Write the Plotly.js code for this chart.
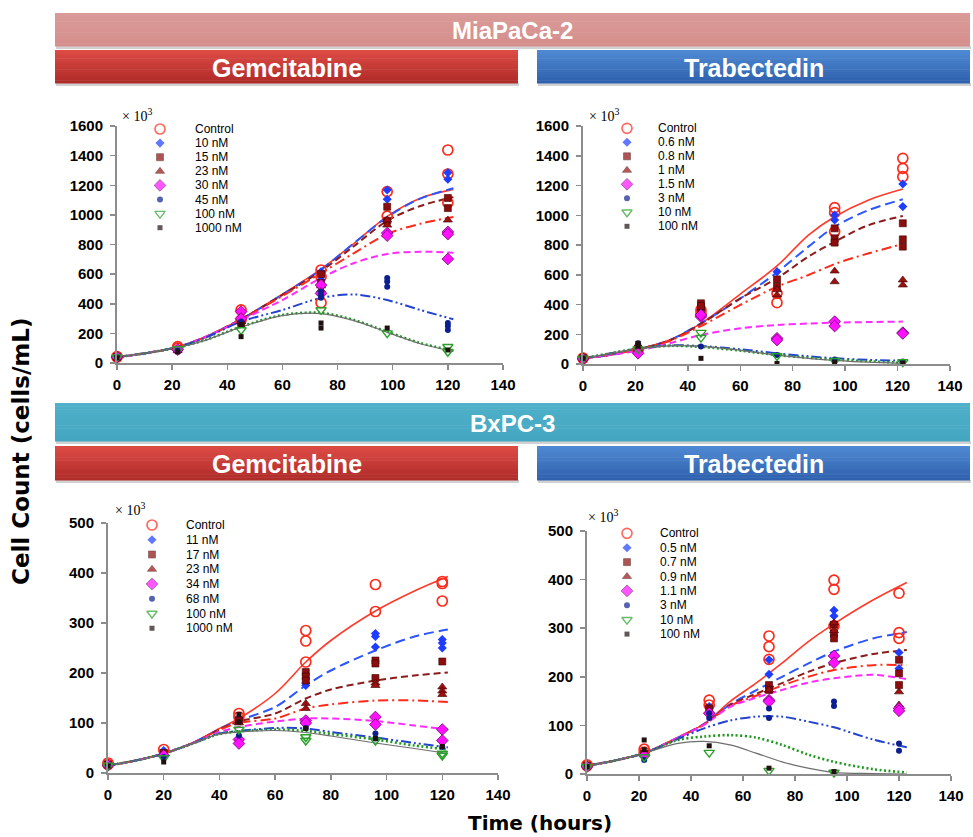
<!DOCTYPE html>
<html><head><meta charset="utf-8">
<script src="https://cdn.plot.ly/plotly-3.0.1.min.js"></script>
<style>html,body{margin:0;padding:0;background:#fff}#chart{width:973px;height:837px}</style>
</head><body><div id="chart"></div>
<script>
// ---------------- DATA ----------------
// MiaPaCa-2 / Gemcitabine
const mgLabels = ['Control','10 nM','15 nM','23 nM','30 nM','45 nM','100 nM','1000 nM'];
const mgTimes = [0,22,45,74,98,120];
const mgPoints = [
  [[43,40],[110,100],[358,290],[628,583,407],[1157,992],[1438,1276,1082]],
  [[40],[95],[300,280],[616,560],[1168,1105],[1285,1240]],
  [[40],[90],[290,270],[540,600],[1055,960],[1114,1046]],
  [[40],[85],[280],[493,520],[965,931],[965]],
  [[40],[90],[347,300],[526,470],[877,860],[885,870,702]],
  [[40],[85],[280],[481,459,440],[573,550,515],[270,250,223]],
  [[40],[95],[223],[358],[202],[110,76]],
  [[35],[75],[178,260],[270,236],[236],[88]]
];
const mgFitTimes = [0,11,22,32,45,60,74,86,98,110,122];
const mgFits = [
  [40,68,108,175,297,465,634,808,990,1113,1172],
  [40,68,108,175,295,462,630,810,985,1110,1180],
  [40,68,108,175,295,460,620,790,960,1060,1120],
  [40,68,108,175,293,452,607,742,871,940,986],
  [40,68,108,175,290,425,574,675,736,751,745],
  [40,68,108,170,279,358,439,463,425,358,295],
  [40,68,105,155,245,324,338,290,211,135,83],
  [40,68,104,153,242,320,334,286,207,130,78]
];

// MiaPaCa-2 / Trabectedin
const mtLabels = ['Control','0.6 nM','0.8 nM','1 nM','1.5 nM','3 nM','10 nM','100 nM'];
const mtTimes = [0,21,45,74,96,122];
const mtPoints = [
  [[38,40],[94],[363,340],[475,412],[1051,1017,890],[1383,1315,1259]],
  [[40],[100],[367],[621],[1002,968],[1210,1058]],
  [[40],[105],[408,363,390],[569,520],[912,845,816],[946,838,789]],
  [[40],[100],[340],[464,500],[625,553],[565,531]],
  [[35],[72],[318,330],[173,161],[285,255],[211,205]],
  [[38],[139],[117],[60],[31],[16]],
  [[38],[100],[211,177],[54],[22],[13]],
  [[38],[139,120],[38],[4],[9],[5]]
];
const mtFitTimes = [0,10,21,33,45,60,74,86,96,109,122];
const mtFits = [
  [38,60,99,161,273,470,659,867,990,1103,1176],
  [38,60,99,160,273,440,616,789,923,1035,1107],
  [38,60,99,158,270,441,576,722,822,934,995],
  [38,60,99,155,255,397,520,598,672,744,807],
  [38,60,90,139,195,240,262,272,278,282,285],
  [38,70,105,125,121,99,72,52,38,28,22],
  [38,70,104,122,115,90,60,42,30,18,8],
  [38,70,104,122,118,92,60,38,25,12,4]
];

// BxPC-3 / Gemcitabine
const bgLabels = ['Control','11 nM','17 nM','23 nM','34 nM','68 nM','100 nM','1000 nM'];
const bgTimes = [0,20,47,71,96,120];
const bgPoints = [
  [[20,17],[47],[119,112],[285,264,222],[377,323],[383,379,344]],
  [[17],[45],[110],[175,180],[279,273,252],[267,260,250]],
  [[17],[40],[105],[202,193,185],[225,219,190],[223]],
  [[17],[38],[100],[139,129],[180,175],[172,164,157]],
  [[15],[35],[67,59],[105,100],[112,97],[87,65]],
  [[15],[32],[75],[90],[79,69],[52]],
  [[15],[30],[87],[72,65],[65],[39,35]],
  [[14],[22],[117,102],[89],[69],[53]]
];
const bgFitTimes = [0,10,20,30,40,47,60,71,80,96,110,122];
const bgFits = [
  [15,25,39,59,89,109,159,222,265,324,364,393],
  [15,25,39,59,88,105,132,175,205,245,273,287],
  [15,25,39,59,87,103,119,149,167,185,195,201],
  [15,25,39,59,86,100,109,129,137,145,145,142],
  [15,25,39,59,82,92,103,109,109,104,95,87],
  [15,25,39,58,79,84,90,89,82,71,60,51],
  [15,25,39,58,78,83,87,84,78,67,55,47],
  [15,25,39,58,78,82,85,81,74,60,49,39]
];

// BxPC-3 / Trabectedin
const btLabels = ['Control','0.5 nM','0.7 nM','0.9 nM','1.1 nM','3 nM','10 nM','100 nM'];
const btTimes = [0,22,47,70,95,120];
const btPoints = [
  [[19,17],[51,45],[152,142],[284,262,236],[399,380,305],[372,291,279]],
  [[17],[40],[139],[235,205],[337,325],[250,217]],
  [[17],[42],[135],[183,173],[307,289,279],[235,207,183]],
  [[17],[40],[130],[173],[311,295],[169,142]],
  [[15],[38],[125],[152,149],[243,229],[135,130]],
  [[15],[29],[125,115],[135,115],[149,140],[63,48]],
  [[15],[35],[44],[7],[3],[]],
  [[15],[70,50],[58],[12],[5],[]]
];
const btFitTimes = [0,11,22,35,45,55,65,75,85,95,110,123];
const btFits = [
  [17,28,43,75,103,149,187,228,272,309,358,394],
  [17,28,43,75,103,143,172,200,227,252,279,292],
  [17,28,43,75,102,142,165,187,210,228,247,255],
  [17,28,43,75,102,140,161,182,200,214,224,224],
  [17,28,43,75,101,138,157,173,188,197,204,195],
  [17,28,43,72,94,110,118,118,108,96,71,55],
  [17,28,43,70,77,80,75,60,40,25,10,3],
  [17,28,43,63,67,60,43,25,12,3,1,0]
];

// ---------------- STYLE ----------------
const W = 973, H = 837;
const mSym = ['circle-open','diamond','square','triangle-up','diamond','circle','triangle-down-open','square'];
const mCol = ['#ff2a1a','#1f3dff','#8b0d0d','#9e1010','#ff10ff','#0c1f8f','#2aa02a','#201010'];
const mSize = [10,7,7,8,9,6,9,5];
const mLineW = [1.7,0,0.6,0.6,0.8,0,1.4,0];
const mLineC = ['#ff2a1a','#1f3dff','#400000','#400000','#700070','#0c1f8f','#2aa02a','#201010'];
const lCol = ['#ff3a2a','#2a55ff','#8b1c1c','#ff2a1a','#ff2aff','#2443d0','#1e9a1e','#6e6e6e'];
const lDash = ['solid','10px,5px','7px,4px','10px,4px,2px,4px','7px,4px','10px,3px,2px,3px,2px,3px','2px,2.5px','solid'];
const lWidth = [1.6,2,2,2,2,2,2.6,1.2];

const panels = [
  {labels: mgLabels, times: mgTimes, points: mgPoints, ft: mgFitTimes, fits: mgFits,
   box: [117,503,126,363], ymax: 1600, dy: 200, leg: [160,193,129,14.1], mult: [137,115]},
  {labels: mtLabels, times: mtTimes, points: mtPoints, ft: mtFitTimes, fits: mtFits,
   box: [583,950,126,364], ymax: 1600, dy: 200, leg: [627,656,128.3,14.0], mult: [604,115]},
  {labels: bgLabels, times: bgTimes, points: bgPoints, ft: bgFitTimes, fits: bgFits,
   box: [108,498,523,773], ymax: 500, dy: 100, leg: [152,184,525,14.75], mult: [130,509]},
  {labels: btLabels, times: btTimes, points: btPoints, ft: btFitTimes, fits: btFits,
   box: [587,951,531,774], ymax: 500, dy: 100, leg: [627,658,533.3,14.4], mult: [603,516]}
];

const traces = [];
const layout = {
  width: W, height: H, margin: {l:0,r:0,t:0,b:0},
  paper_bgcolor: '#ffffff', plot_bgcolor: 'rgba(0,0,0,0)',
  showlegend: false, shapes: [], annotations: [],
  font: {family: 'Liberation Sans, Arial, sans-serif', color: '#000'}
};
const tickFont = {family: 'Liberation Sans, Arial, sans-serif', size: 15, color: '#000', weight: 'bold'};

panels.forEach((p, k) => {
  const n = k === 0 ? '' : String(k + 1);
  const [x0, x1, y0, y1] = p.box;
  layout['xaxis' + n] = {
    domain: [x0 / W, x1 / W], range: [0, 140], dtick: 20, anchor: 'y' + n,
    showline: true, linecolor: '#8c8c8c', linewidth: 2, ticks: 'outside', ticklen: 5,
    tickcolor: '#8c8c8c', tickwidth: 1.5, showgrid: false, zeroline: false,
    tickfont: tickFont, ticklabelstandoff: 2, fixedrange: true
  };
  layout['yaxis' + n] = {
    domain: [1 - y1 / H, 1 - y0 / H], range: [0, p.ymax], dtick: p.dy, anchor: 'x' + n,
    showline: true, linecolor: '#8c8c8c', linewidth: 2, ticks: 'outside', ticklen: 5,
    tickcolor: '#8c8c8c', tickwidth: 1.5, showgrid: false, zeroline: false,
    tickfont: tickFont, ticklabelstandoff: 4, fixedrange: true
  };
  // fitted curves
  p.fits.forEach((f, i) => {
    traces.push({
      x: p.ft, y: f, xaxis: 'x' + n, yaxis: 'y' + n, mode: 'lines', hoverinfo: 'skip',
      line: {color: lCol[i], dash: lDash[i], width: lWidth[i], shape: 'spline', smoothing: 0.9}
    });
  });
  // measured points
  p.points.forEach((ser, i) => {
    const xs = [], ys = [];
    p.times.forEach((t, j) => ser[j].forEach(v => { xs.push(t); ys.push(v); }));
    traces.push({
      x: xs, y: ys, xaxis: 'x' + n, yaxis: 'y' + n, mode: 'markers', cliponaxis: false,
      name: p.labels[i],
      marker: {symbol: mSym[i], color: mCol[i], size: mSize[i], line: {width: mLineW[i], color: mLineC[i]}}
    });
  });
  // legend (markers on pixel overlay axis)
  const [mx, tx, ly0, ldy] = p.leg;
  traces.push({
    x: p.labels.map(() => mx), y: p.labels.map((_, i) => ly0 + i * ldy),
    xaxis: 'x5', yaxis: 'y5', mode: 'markers', hoverinfo: 'skip', cliponaxis: false,
    marker: {symbol: mSym, color: mCol, size: mSize, line: {width: mLineW, color: mLineC}}
  });
  p.labels.forEach((lab, i) => {
    layout.annotations.push({xref: 'x5', yref: 'y5', x: tx, y: ly0 + i * ldy, text: lab,
      showarrow: false, xanchor: 'left', yanchor: 'middle',
      font: {size: 12, color: '#000', family: 'Liberation Sans, Arial, sans-serif'}});
  });
  layout.annotations.push({xref: 'x5', yref: 'y5', x: p.mult[0], y: p.mult[1], text: '× 10<sup>3</sup>',
    showarrow: false, xanchor: 'center', yanchor: 'middle',
    font: {size: 14, color: '#000', family: 'Liberation Serif, Times New Roman, serif'}});
});

// overlay axes in pixel units
layout.xaxis5 = {domain: [0, 1], range: [0, W], visible: false, fixedrange: true, anchor: 'y5'};
layout.yaxis5 = {domain: [0, 1], range: [H, 0], visible: false, fixedrange: true, anchor: 'x5'};
traces.push({x: [0], y: [0], xaxis: 'x5', yaxis: 'y5', mode: 'markers', marker: {opacity: 0}, hoverinfo: 'skip'});

// header bars
function lerp(a, b, t) {
  const pa = a.match(/\w\w/g).map(h => parseInt(h, 16)), pb = b.match(/\w\w/g).map(h => parseInt(h, 16));
  return 'rgb(' + pa.map((v, i) => Math.round(v + (pb[i] - v) * t)).join(',') + ')';
}
function bar(x0, x1, y0, y1, c0, c1, txt, size) {
  const N = 12;
  layout.shapes.push({type: 'rect', xref: 'x5', yref: 'y5', x0: x0 + 1, x1: x1 + 1, y0: y1, y1: y1 + 3,
    fillcolor: 'rgba(0,0,0,0.18)', line: {width: 0}, layer: 'below'});
  for (let s = 0; s < N; s++) {
    layout.shapes.push({type: 'rect', xref: 'x5', yref: 'y5', x0: x0, x1: x1,
      y0: y0 + (y1 - y0) * s / N, y1: y0 + (y1 - y0) * (s + 1) / N + 0.5,
      fillcolor: lerp(c0, c1, s / (N - 1)), line: {width: 0}, layer: 'below'});
  }
  layout.annotations.push({xref: 'x5', yref: 'y5', x: (x0 + x1) / 2, y: (y0 + y1) / 2 + 1, text: txt,
    showarrow: false, xanchor: 'center', yanchor: 'middle',
    font: {size: size, color: '#ffffff', weight: 'bold', family: 'Liberation Sans Narrow, Arial Narrow, Liberation Sans, Arial, sans-serif'}});
}
bar(55, 970, 13, 46, 'd99a98', 'd58f8d', 'MiaPaCa-2', 24);
bar(55, 518, 50, 83, 'dc4a44', 'b02c29', 'Gemcitabine', 25);
bar(537, 970, 50, 83, '4f88d2', '2f62ae', 'Trabectedin', 25);
bar(55, 970, 403, 441, '4fb0c9', '45a6c2', 'BxPC-3', 24);
bar(55, 518, 446, 480, 'dc4a44', 'b02c29', 'Gemcitabine', 25);
bar(537, 970, 446, 480, '4f88d2', '2f62ae', 'Trabectedin', 25);

// axis titles
layout.annotations.push({xref: 'x5', yref: 'y5', x: 21, y: 452, text: 'Cell Count (cells/mL)', textangle: -90,
  showarrow: false, xanchor: 'center', yanchor: 'middle',
  font: {size: 23, color: '#000', weight: 'bold', family: 'DejaVu Sans, Verdana, sans-serif'}});
layout.annotations.push({xref: 'x5', yref: 'y5', x: 540, y: 823, text: 'Time (hours)',
  showarrow: false, xanchor: 'center', yanchor: 'middle',
  font: {size: 20, color: '#000', weight: 'bold', family: 'DejaVu Sans, Verdana, sans-serif'}});

Plotly.newPlot('chart', traces, layout, {staticPlot: true, displayModeBar: false});
</script></body></html>
